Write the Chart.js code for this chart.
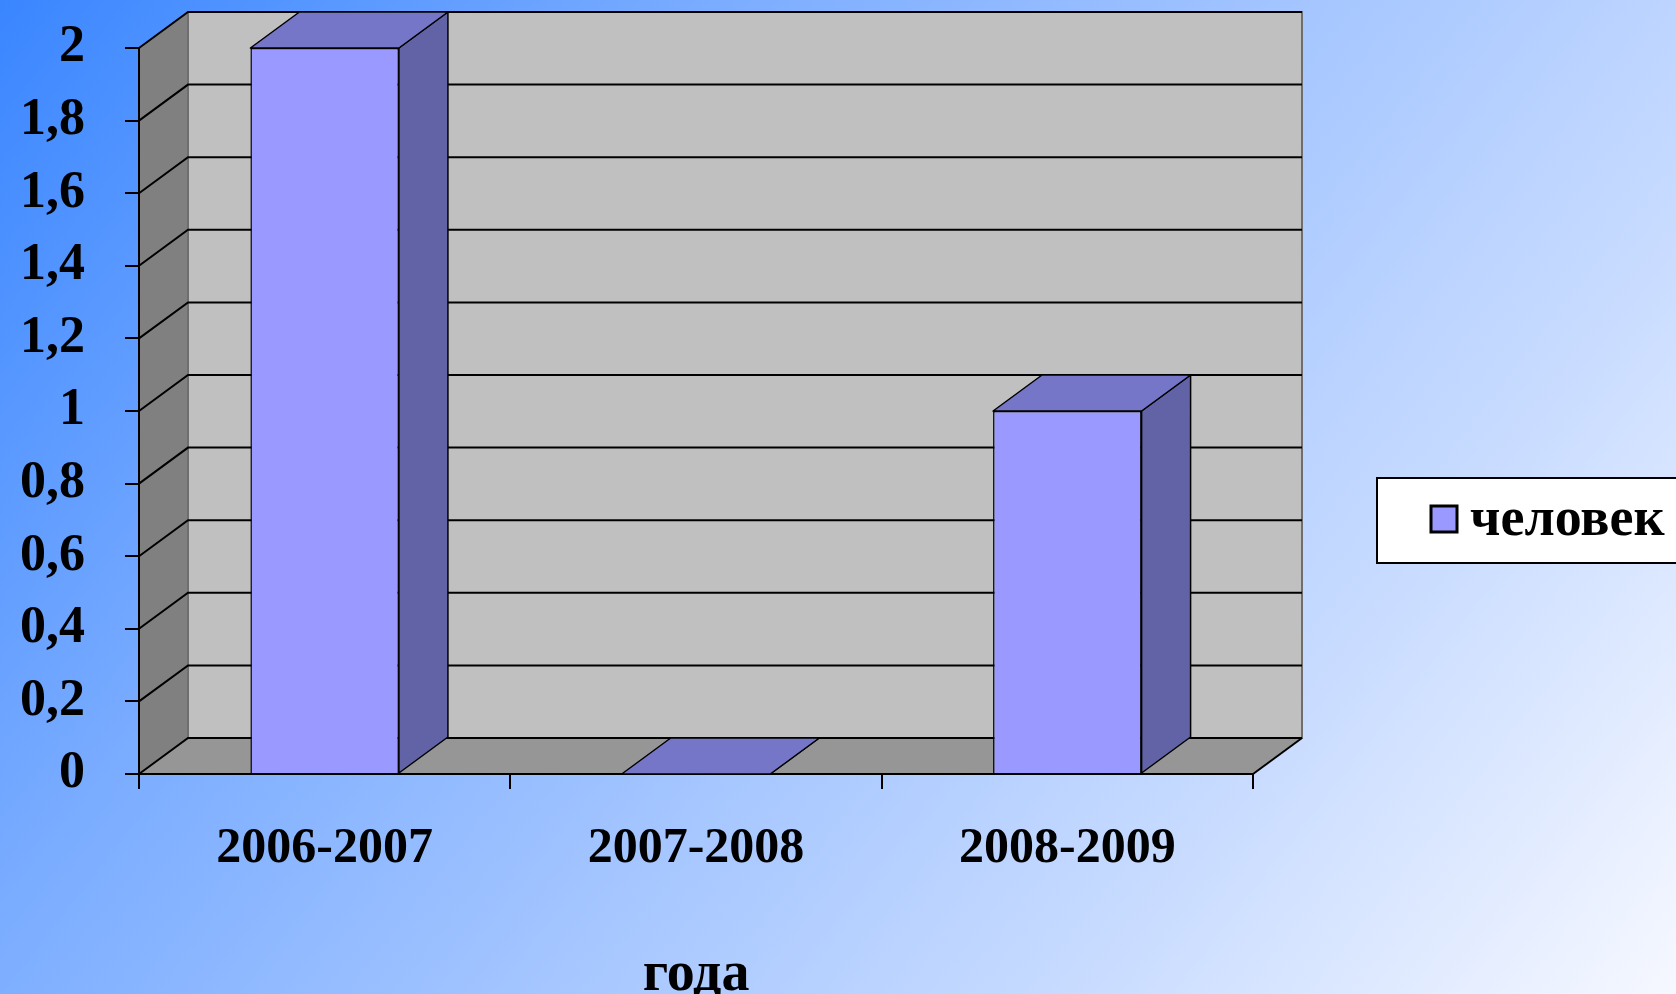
<!DOCTYPE html>
<html>
<head>
<meta charset="utf-8">
<script src="https://cdn.jsdelivr.net/npm/chart.js@4/dist/chart.umd.min.js"></script>
<style>
  html, body { margin: 0; padding: 0; overflow: hidden; }
  body {
    width: 1676px; height: 994px;
    background: linear-gradient(128deg, #3a86ff 0%, #78abff 28%, #a2c4ff 52%, #c9dcff 76%, #f6f8ff 100%);
  }
  canvas { display: block; }
</style>
</head>
<body>
<canvas id="grafico" width="1676" height="994"></canvas>
<script>
// datos del grafico
var categorias = ['2006-2007', '2007-2008', '2008-2009'];
var valores = [2, 0, 1];
var nombreSerie = 'человек';
var tituloX = 'года';
var yMin = 0, yMax = 2, yPaso = 0.2;

var fuente = "'Liberation Serif', 'Times New Roman', serif";
var DX = 49, DY = 36; // profundidad del efecto 3D

function etiquetaY(v) {
    if (Math.abs(v - Math.round(v)) < 1e-9) return String(Math.round(v));
    return v.toFixed(1).replace('.', ',');
}

function poligono(ctx, pts, relleno, borde, ancho) {
    ctx.beginPath();
    ctx.moveTo(pts[0][0], pts[0][1]);
    for (var i = 1; i < pts.length; i++) ctx.lineTo(pts[i][0], pts[i][1]);
    ctx.closePath();
    if (relleno) { ctx.fillStyle = relleno; ctx.fill(); }
    if (borde) { ctx.strokeStyle = borde; ctx.lineWidth = ancho || 1; ctx.stroke(); }
}

var fondo3D = {
    id: 'fondo3D',
    beforeDraw: function (chart) {
        var ctx = chart.ctx, a = chart.chartArea, y = chart.scales.y;
        var L = a.left, R = a.right, T = a.top, B = a.bottom;
        ctx.save();
        // pared izquierda
        poligono(ctx, [[L, T], [L + DX, T - DY], [L + DX, B - DY], [L, B]], '#808080');
        // pared del fondo
        poligono(ctx, [[L + DX, T - DY], [R + DX, T - DY], [R + DX, B - DY], [L + DX, B - DY]], '#c0c0c0', '#6e6e6e', 2);
        // piso
        poligono(ctx, [[L, B], [R, B], [R + DX, B - DY], [L + DX, B - DY]], '#969696');
        // lineas de la grilla
        ctx.strokeStyle = '#000';
        ctx.lineWidth = 2;
        y.ticks.forEach(function (t) {
            var py = y.getPixelForValue(t.value);
            ctx.beginPath();
            ctx.moveTo(L, py);
            ctx.lineTo(L + DX, py - DY);
            ctx.lineTo(R + DX, py - DY);
            ctx.stroke();
        });
        // borde derecho del piso
        ctx.beginPath();
        ctx.moveTo(R, B);
        ctx.lineTo(R + DX, B - DY);
        ctx.stroke();
        ctx.restore();
    },
    afterDatasetsDraw: function (chart) {
        var ctx = chart.ctx;
        var meta = chart.getDatasetMeta(0);
        ctx.save();
        ctx.lineJoin = 'round';
        meta.data.forEach(function (bar) {
            var p = bar.getProps(['x', 'y', 'base', 'width'], true);
            var izq = p.x - p.width / 2, der = p.x + p.width / 2;
            // cara lateral
            poligono(ctx, [[der, p.y], [der + DX, p.y - DY], [der + DX, p.base - DY], [der, p.base]], '#6262a6', '#000', 1.5);
            // cara superior
            poligono(ctx, [[izq, p.y], [der, p.y], [der + DX, p.y - DY], [izq + DX, p.y - DY]], '#7676c8', '#000', 1.5);
        });
        ctx.restore();
    },
    afterDraw: function (chart) {
        // leyenda
        var ctx = chart.ctx, ds = chart.data.datasets[0];
        ctx.save();
        ctx.fillStyle = '#fff';
        ctx.fillRect(1377, 478, 320, 85);
        ctx.strokeStyle = '#000';
        ctx.lineWidth = 2;
        ctx.strokeRect(1377, 478, 320, 85);
        ctx.fillStyle = ds.backgroundColor;
        ctx.fillRect(1431, 506, 26, 26);
        ctx.lineWidth = 3;
        ctx.strokeRect(1431, 506, 26, 26);
        ctx.fillStyle = '#000';
        ctx.font = 'bold 54px ' + fuente;
        ctx.textBaseline = 'alphabetic';
        ctx.fillText(ds.label, 1470, 535);
        ctx.restore();
    }
};

new Chart(document.getElementById('grafico'), {
    type: 'bar',
    data: {
        labels: categorias,
        datasets: [{
            label: nombreSerie,
            data: valores,
            backgroundColor: '#9999ff',
            borderColor: '#000',
            borderWidth: 1.5,
            categoryPercentage: 0.8,
            barPercentage: 0.5
        }]
    },
    options: {
        responsive: false,
        devicePixelRatio: 1,
        animation: false,
        layout: { padding: { top: 48, right: 423, left: 0, bottom: 0 } },
        plugins: {
            legend: { display: false },
            tooltip: { enabled: false }
        },
        scales: {
            y: {
                min: yMin,
                max: yMax,
                afterFit: function (s) { s.width = 139; s.paddingTop = 0; s.paddingBottom = 0; },
                ticks: {
                    stepSize: yPaso,
                    color: '#000',
                    padding: 40,
                    font: { family: fuente, size: 52, weight: 'bold' },
                    callback: function (v) { return etiquetaY(v); }
                },
                grid: { drawOnChartArea: false, color: '#000', lineWidth: 2, tickLength: 14 },
                border: { color: '#000', width: 2 }
            },
            x: {
                afterFit: function (s) { s.height = 220; s.paddingLeft = 0; s.paddingRight = 0; },
                ticks: {
                    color: '#000',
                    padding: 30,
                    font: { family: fuente, size: 50, weight: 'bold' }
                },
                grid: { offset: true, drawOnChartArea: false, color: '#000', lineWidth: 2, tickLength: 15 },
                border: { color: '#000', width: 2 },
                title: {
                    display: true,
                    text: tituloX,
                    color: '#000',
                    padding: { top: 0, bottom: -4 },
                    font: { family: fuente, size: 56, weight: 'bold', lineHeight: 0.8 }
                }
            }
        }
    },
    plugins: [fondo3D]
});
</script>
</body>
</html>
